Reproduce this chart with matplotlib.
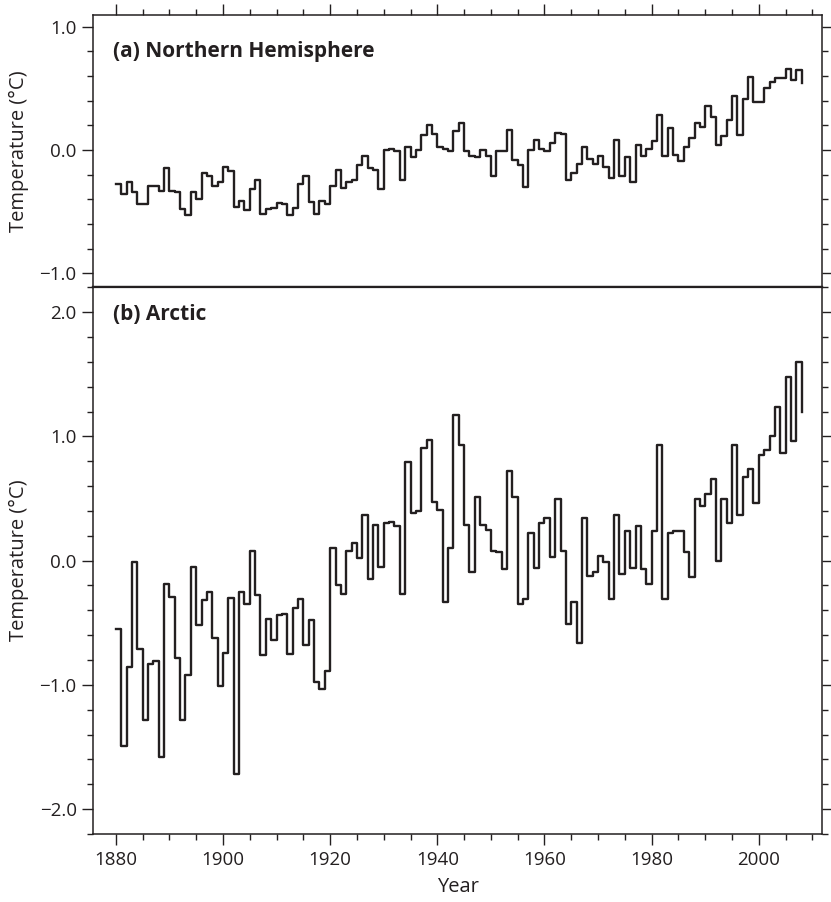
import matplotlib.pyplot as plt
from matplotlib.ticker import MultipleLocator, FuncFormatter

plt.rcParams['font.family'] = ['Open Sans', 'DejaVu Sans']

years = list(range(1880, 2009))

# (a) Northern Hemisphere temperature anomaly, 1880-2008
nh_temp = [
    -0.28, -0.36, -0.26, -0.34, -0.44, -0.44, -0.29, -0.29, -0.33, -0.15,
    -0.33, -0.34, -0.48, -0.53, -0.34, -0.40, -0.19, -0.21, -0.29, -0.26,
    -0.14, -0.17, -0.46, -0.41, -0.49, -0.32, -0.24, -0.52, -0.48, -0.47,
    -0.43, -0.44, -0.53, -0.47, -0.28, -0.21, -0.42, -0.52, -0.41, -0.44,
    -0.29, -0.16, -0.31, -0.26, -0.24, -0.12, -0.05, -0.15, -0.16, -0.32,
    0.00, 0.01, -0.01, -0.24, 0.02, -0.06, 0.00, 0.12, 0.20, 0.13,
    0.02, 0.01, -0.01, 0.15, 0.22, -0.01, -0.05, -0.06, 0.00, -0.05,
    -0.21, -0.01, -0.01, 0.16, -0.08, -0.12, -0.30, 0.00, 0.08, 0.01,
    -0.01, 0.06, 0.14, 0.13, -0.24, -0.19, -0.11, 0.02, -0.07, -0.11,
    -0.05, -0.14, -0.23, 0.08, -0.21, -0.06, -0.26, 0.04, -0.05, 0.01,
    0.07, 0.28, -0.05, 0.18, -0.04, -0.09, 0.02, 0.10, 0.22, 0.19,
    0.36, 0.27, 0.04, 0.11, 0.24, 0.44, 0.12, 0.41, 0.59, 0.39,
    0.39, 0.50, 0.55, 0.58, 0.58, 0.66, 0.57, 0.65, 0.54,
]

# (b) Arctic temperature anomaly, 1880-2008
arctic_temp = [
    -0.55, -1.49, -0.86, -0.01, -0.71, -1.28, -0.83, -0.81, -1.58, -0.19,
    -0.29, -0.78, -1.28, -0.92, -0.05, -0.52, -0.32, -0.25, -0.62, -1.01,
    -0.74, -0.30, -1.72, -0.25, -0.35, 0.08, -0.28, -0.76, -0.47, -0.64,
    -0.44, -0.43, -0.75, -0.38, -0.31, -0.68, -0.48, -0.98, -1.03, -0.89,
    0.10, -0.20, -0.27, 0.08, 0.14, 0.02, 0.37, -0.15, 0.29, -0.05,
    0.30, 0.31, 0.28, -0.27, 0.79, 0.38, 0.40, 0.91, 0.97, 0.47,
    0.41, -0.33, 0.10, 1.17, 0.93, 0.29, -0.09, 0.51, 0.29, 0.25,
    0.08, 0.07, -0.07, 0.72, 0.51, -0.35, -0.31, 0.22, -0.06, 0.30,
    0.34, 0.03, 0.50, 0.08, -0.51, -0.33, -0.66, 0.34, -0.12, -0.09,
    0.04, -0.01, -0.31, 0.37, -0.11, 0.24, -0.06, 0.28, -0.07, -0.19,
    0.24, 0.93, -0.31, 0.22, 0.24, 0.24, 0.07, -0.13, 0.50, 0.44,
    0.54, 0.66, 0.00, 0.50, 0.30, 0.93, 0.37, 0.67, 0.74, 0.46,
    0.85, 0.89, 1.00, 1.24, 0.87, 1.48, 0.96, 1.60, 1.20,
]

panel_titles = ["(a) Northern Hemisphere", "(b) Arctic"]
y_label = "Temperature (\u00b0C)"
x_label = "Year"

INK = "#231f20"


def format_temp(x, pos):
    """One decimal, with a real minus sign"""

    return f"{x:.1f}".replace("-", "\u2212")


def style_axis(ax):
    """Shared tick and spine styling"""

    for side in ax.spines.values():
        side.set_linewidth(1.1)
        side.set_color(INK)
    ax.xaxis.set_major_locator(MultipleLocator(20))
    ax.xaxis.set_minor_locator(MultipleLocator(5))
    ax.yaxis.set_major_locator(MultipleLocator(1.0))
    ax.yaxis.set_minor_locator(MultipleLocator(0.2))
    ax.yaxis.set_major_formatter(FuncFormatter(format_temp))
    ax.tick_params(which="both", direction="out", color=INK, width=1.0,
                   labelsize=13.5, labelcolor=INK, left=True, right=True,
                   labelright=False)
    ax.tick_params(which="major", length=8, pad=4)
    ax.tick_params(which="minor", length=4.5)
    ax.set_xlim(1875.8, 2011.8)


def main():
    fig = plt.figure(figsize=(8.31, 9.02), dpi=100)
    ax_top = fig.add_axes([0.1123, 0.6815, 0.8769, 0.3019])
    ax_bot = fig.add_axes([0.1123, 0.0754, 0.8769, 0.6061])

    ax_top.step(years, nh_temp, where="post", color=INK, lw=1.7)
    ax_bot.step(years, arctic_temp, where="post", color=INK, lw=1.7)

    style_axis(ax_top)
    style_axis(ax_bot)
    ax_top.set_ylim(-1.114, 1.095)
    ax_bot.set_ylim(-2.2, 2.2)

    ax_top.tick_params(axis="x", which="both", bottom=False, top=True,
                       labelbottom=False)
    ax_bot.tick_params(axis="x", which="both", bottom=True, top=False)
    ax_top.spines["bottom"].set_linewidth(1.6)
    ax_bot.spines["top"].set_linewidth(1.6)

    ax_top.text(0.027, 0.905, panel_titles[0], transform=ax_top.transAxes,
                fontsize=15, fontweight="bold", color=INK, va="top")
    ax_bot.text(0.027, 0.97, panel_titles[1], transform=ax_bot.transAxes,
                fontsize=15, fontweight="bold", color=INK, va="top")

    for ax in (ax_top, ax_bot):
        ax.set_ylabel(y_label, fontsize=14.5, color=INK)
        ax.yaxis.set_label_coords(-0.088, 0.5)
    ax_bot.set_xlabel(x_label, fontsize=14.5, color=INK, labelpad=6)

    fig.savefig("out.png", dpi=100)


if __name__ == "__main__":
    main()
